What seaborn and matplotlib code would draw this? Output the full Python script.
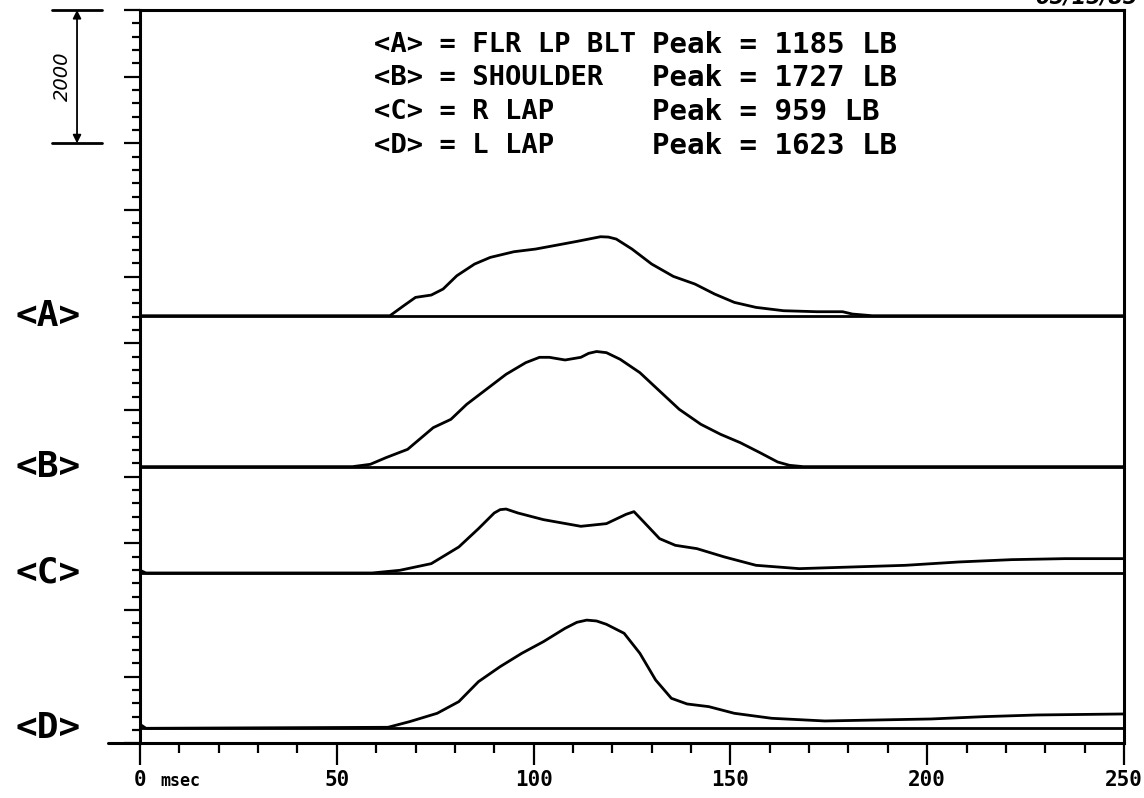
import numpy as np
import pandas as pd
import matplotlib
matplotlib.use("Agg")
import matplotlib.pyplot as plt
import matplotlib.transforms as mtransforms
from matplotlib.ticker import MultipleLocator
import seaborn as sns

# force traces (time in msec, force in LB)
time_a = [0, 63.5, 67, 70, 74, 77, 80.5, 85, 89, 95, 100.5, 106, 111, 114, 117, 119, 121,
          125, 130, 135.5, 141, 146, 151, 156.5, 163.5, 172, 178.5, 181, 186, 250]
force_a = [0, 0, 150, 275, 310, 400, 600, 775, 875, 960, 1000, 1060, 1115, 1150, 1185, 1180, 1150,
           1000, 775, 590, 475, 325, 200, 125, 75, 60, 60, 25, 0, 0]

time_b = [0, 54, 58.5, 62.5, 68, 71, 74.5, 79, 83, 88, 93, 98, 101.5, 104, 108,
          112, 114, 116, 118.5, 122, 127, 132, 137, 142.5, 147.5, 152.5, 157.5, 162, 165, 168.5, 250]
force_b = [0, 0, 35, 135, 260, 410, 585, 710, 935, 1160, 1385, 1560, 1640, 1640, 1600,
           1640, 1700, 1727, 1710, 1610, 1410, 1135, 860, 635, 485, 360, 210, 70, 20, 0, 0]

time_c = [0, 1.5, 59, 66, 74, 81, 86, 90, 91.5, 93, 96, 102.5, 112, 118.5, 123.5, 125.5,
          128, 132, 136, 141.5, 148.5, 156.5, 167.5, 181, 194.5, 208, 221.5, 235, 250]
force_c = [40, 0, 0, 40, 140, 390, 665, 900, 950, 959, 900, 800, 700, 740, 880, 920,
           765, 515, 415, 365, 240, 115, 65, 90, 115, 165, 200, 215, 215]

time_d = [0, 1.5, 63, 68.5, 75.5, 81, 86, 91.5, 97, 102.5, 108, 111, 113.5, 116, 118.5, 123,
          127, 131, 135, 139, 144.5, 151, 160.5, 174, 187.5, 201, 214.5, 228, 250]
force_d = [60, 0, 15, 100, 225, 400, 700, 925, 1125, 1300, 1500, 1590, 1623, 1610, 1560, 1425,
           1125, 725, 450, 365, 325, 225, 150, 110, 125, 140, 175, 200, 215]

channels = ["<A>", "<B>", "<C>", "<D>"]
names = ["FLR LP BLT", "SHOULDER", "R LAP", "L LAP"]
peaks = [1185, 1727, 959, 1623]
x_ticks = [0, 50, 100, 150, 200, 250]

# vertical position of each channel's zero line (LB units on the chart)
offsets = [6414, 4150, 2555, 225]

sns.set_style("ticks")
plt.rcParams["font.family"] = ["DejaVu Sans Mono", "DejaVu Sans"]
plt.rcParams["font.weight"] = "bold"
plt.rcParams["text.color"] = "black"
plt.rcParams["xtick.color"] = "black"
plt.rcParams["ytick.color"] = "black"
plt.rcParams["axes.edgecolor"] = "black"
plt.rcParams["lines.solid_joinstyle"] = "round"

W, H = 1144, 798
fig = plt.figure(figsize=(W / 100, H / 100), dpi=100)
ax = fig.add_axes([140 / W, (H - 743.3) / H, 984 / W, 733.3 / H])

traces = [(time_a, force_a), (time_b, force_b), (time_c, force_c), (time_d, force_d)]
for (t, f), off in zip(traces, offsets):
    ax.axhline(off, color="black", lw=2.0, zorder=2)
    df = pd.DataFrame({"msec": t, "LB": np.array(f) + off})
    sns.lineplot(data=df, x="msec", y="LB", ax=ax, color="black", lw=2.0,
                 estimator=None, sort=False, zorder=3)

ax.set_xlim(0, 250)
ax.set_ylim(0, 11000)
ax.set_xlabel("")
ax.set_ylabel("")

for s in ax.spines.values():
    s.set_linewidth(2.2)
    s.set_color("black")

ax.set_xticks(x_ticks)
ax.set_xticklabels([str(v) for v in x_ticks])
ax.xaxis.set_minor_locator(MultipleLocator(10))
ax.yaxis.set_major_locator(MultipleLocator(1000))
ax.yaxis.set_minor_locator(MultipleLocator(200))
ax.tick_params(axis="x", which="major", direction="out", length=16, width=1.6,
               labelsize=15, pad=3, labelcolor="black")
ax.tick_params(axis="x", which="minor", direction="out", length=7, width=1.6)
ax.tick_params(axis="y", which="major", direction="out", length=11.5, width=1.6,
               labelleft=False)
ax.tick_params(axis="y", which="minor", direction="out", length=5.8, width=1.6)

trans = mtransforms.blended_transform_factory(ax.transAxes, ax.transData)
xtrans = mtransforms.blended_transform_factory(ax.transData, ax.transAxes)

# bottom axis line runs a little past the frame on the left
ax.plot([-0.0325, 0], [0, 0], transform=trans, clip_on=False, color="black", lw=2.2)

# 2000 LB scale bar
for yv in (11000, 9000):
    ax.plot([-0.0894, -0.0386], [yv, yv], transform=trans, clip_on=False,
            color="black", lw=2.0)
ax.annotate("", xy=(-0.064, 11000), xytext=(-0.064, 9000), xycoords=trans,
            textcoords=trans,
            arrowprops=dict(arrowstyle="<|-|>", color="black", lw=1.3,
                            mutation_scale=12, shrinkA=0, shrinkB=0))
ax.text(-0.0785, 10000, "2000", transform=trans, rotation=90, ha="center",
        va="center", fontsize=14, style="italic", family="DejaVu Sans",
        fontweight="normal")

# channel labels on the left
for lab, off in zip(channels, offsets):
    ax.text(-0.0935, off, lab, transform=trans, ha="center", va="center",
            fontsize=26, fontweight="bold", clip_on=False)

ax.text(5.2, -0.052, "msec", transform=xtrans, ha="left", va="center",
        fontsize=12, fontweight="bold")

# legend block
rows_y = [45, 78, 112, 146]
for lab, name, pk, yy in zip(channels, names, peaks, rows_y):
    fig.text(374 / W, 1 - yy / H, f"{lab} = {name}", ha="left", va="center",
             fontsize=19.5, fontweight="bold")
    fig.text(652 / W, 1 - yy / H, f"Peak = {pk} LB", ha="left", va="center",
             fontsize=21, fontweight="bold")

# date stamp, cut off at the top edge of the sheet
fig.text(1138 / W, 1 + 3 / H, "05/15/85", ha="right", va="center", fontsize=15,
         style="italic", family="DejaVu Sans")

fig.savefig("out.png", dpi=100)
